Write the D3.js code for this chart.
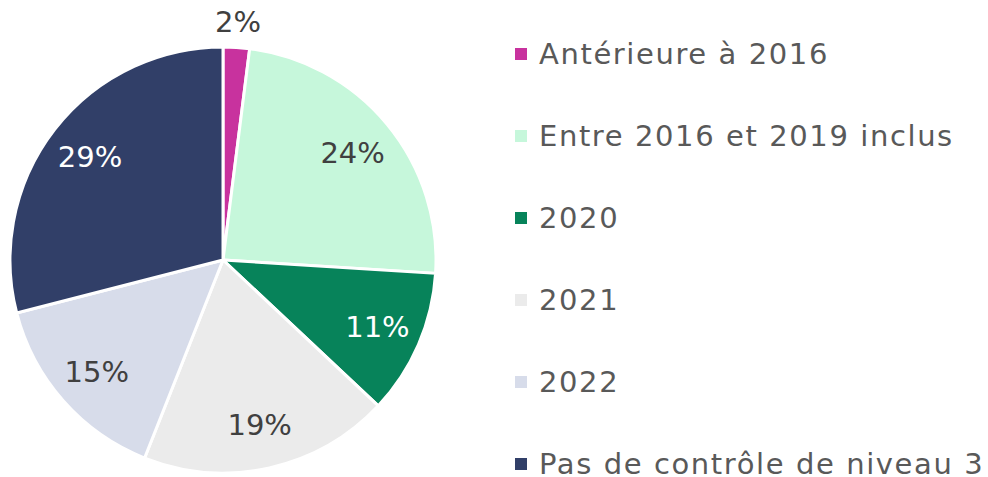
<!DOCTYPE html>
<html>
<head>
<meta charset="utf-8">
<script src="https://cdn.jsdelivr.net/npm/d3@7"></script>
<style>
  body { margin: 0; background: #fff; }
  text { font-family: "DejaVu Sans", sans-serif; }
</style>
</head>
<body>
<div id="container"></div>
<script>
// donnees
const categories = ["Antérieure à 2016", "Entre 2016 et 2019 inclus", "2020", "2021", "2022", "Pas de contrôle de niveau 3"];
const values = [2, 24, 11, 19, 15, 29];
const colors = ["#c8329e", "#c6f7db", "#07835a", "#ebebeb", "#d7dcea", "#313f68"];
const labelColors = ["#404040", "#404040", "#ffffff", "#404040", "#404040", "#ffffff"];

const width = 988, height = 477;
const cx = 223, cy = 260, radius = 213;

const svg = d3.select("#container").append("svg")
  .attr("width", width)
  .attr("height", height);

const pie = d3.pie().sort(null).value(d => d.v);
const arcs = pie(categories.map((c, i) => ({ c: c, v: values[i], col: colors[i], lc: labelColors[i] })));

const arc = d3.arc().innerRadius(0).outerRadius(radius);
const labelArc = d3.arc().innerRadius(radius * 0.79).outerRadius(radius * 0.79);
const outerArc = d3.arc().innerRadius(radius + 26).outerRadius(radius + 26);

const chart = svg.append("g").attr("transform", `translate(${cx}, ${cy})`);

chart.selectAll("path")
  .data(arcs)
  .enter()
  .append("path")
  .attr("d", arc)
  .attr("fill", d => d.data.col)
  .attr("stroke", "#fff")
  .attr("stroke-width", 3);

chart.selectAll(".lbl")
  .data(arcs)
  .enter()
  .append("text")
  .attr("class", "lbl")
  .attr("transform", d => {
    const p = (d.data.v < 5 ? outerArc : labelArc).centroid(d);
    return `translate(${p[0]}, ${p[1]})`;
  })
  .attr("text-anchor", "middle")
  .attr("dy", "0.36em")
  .style("font-size", "29px")
  .style("fill", d => d.data.lc)
  .text(d => d.data.v + "%");

// legende
const legend = svg.append("g").attr("transform", "translate(515, 54)");
const row = d3.scaleBand().domain(categories).range([0, 82 * categories.length]);

const items = legend.selectAll("g")
  .data(categories)
  .enter()
  .append("g")
  .attr("transform", d => `translate(0, ${row(d)})`);

items.append("rect")
  .attr("x", 0).attr("y", -6)
  .attr("width", 12).attr("height", 12)
  .attr("fill", (d, i) => colors[i]);

items.append("text")
  .attr("x", 24)
  .attr("dy", "0.36em")
  .style("font-size", "29px")
  .style("letter-spacing", "1.6px")
  .style("fill", "#595959")
  .text(d => d);
</script>
</body>
</html>
